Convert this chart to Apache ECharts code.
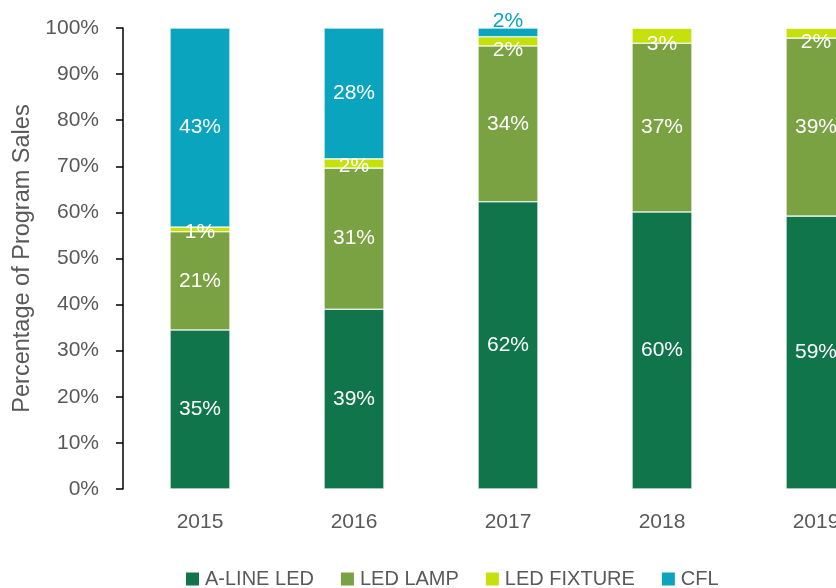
<!DOCTYPE html>
<html>
<head>
<meta charset="utf-8">
<script src="https://cdn.jsdelivr.net/npm/echarts@6/dist/echarts.min.js"></script>
<style>
  html, body { margin: 0; padding: 0; background: #fff; }
  #chart { width: 836px; height: 588px; }
</style>
</head>
<body>
<div id="chart"></div>
<script>
const years = ['2015', '2016', '2017', '2018', '2019'];
const alineLed = [34.5, 39.0, 62.3, 60.1, 59.2];
const ledLamp = [21.3, 30.6, 33.8, 36.6, 38.6];
const ledFixture = [1.0, 2.0, 2.0, 3.3, 2.2];
const cfl = [43.2, 28.4, 1.9, 0, 0];

const colors = {
  aline: '#10754A',
  lamp: '#7AA242',
  fixture: '#C5E00B',
  cfl: '#0AA4BF'
};

const chart = echarts.init(document.getElementById('chart'));
const fontFamily = "'Liberation Sans', Arial, sans-serif";

const pct = p => (p.value > 0 ? Math.round(p.value) + '%' : '');

function makeSeries(name, data, color) {
  return {
    name: name,
    type: 'bar',
    stack: 'total',
    barWidth: 60,
    itemStyle: { color: color, borderColor: '#ffffff', borderWidth: 0.6 },
    label: {
      show: true,
      position: 'inside',
      color: '#ffffff',
      fontSize: 21,
      fontFamily: fontFamily,
      formatter: pct
    },
    data: data
  };
}

// LED FIXTURE labels sit a little below the thin segment; near the top they are pushed further down
const fixtureData = ledFixture.map((v, i) => {
  const top = alineLed[i] + ledLamp[i] + v;
  return { value: v, label: { offset: [0, top > 90 ? 9 : 3] } };
});

// CFL: small segments get their label above the bar in the series colour
const cflData = cfl.map(v => v > 0 && v < 5
  ? { value: v, label: { position: 'top', distance: 0, offset: [0, 4], color: colors.cfl } }
  : v);

chart.setOption({
  animation: false,
  textStyle: { fontFamily: fontFamily },
  grid: {
    left: 123,
    right: -57,
    top: 28,
    bottom: 99,
    containLabel: false,
    outerBoundsMode: 'none'
  },
  legend: {
    data: ['A-LINE LED', 'LED LAMP', 'LED FIXTURE', 'CFL'],
    left: 179,
    top: 564,
    icon: 'rect',
    itemWidth: 15,
    itemHeight: 15,
    itemGap: 25,
    textStyle: { color: '#595959', fontSize: 20, fontFamily: fontFamily }
  },
  xAxis: {
    type: 'category',
    data: years,
    axisLine: { show: false },
    axisTick: { show: false },
    axisLabel: { color: '#595959', fontSize: 21, margin: 23 }
  },
  yAxis: {
    type: 'value',
    min: 0,
    max: 100,
    interval: 10,
    name: 'Percentage of Program Sales',
    nameLocation: 'middle',
    nameGap: 86,
    nameTextStyle: { color: '#595959', fontSize: 23.5, fontFamily: fontFamily },
    axisLine: { show: true, lineStyle: { color: '#000', width: 1.5 } },
    axisTick: { show: true, length: 7, lineStyle: { color: '#000', width: 1.5 } },
    axisLabel: { color: '#595959', fontSize: 21, margin: 24, formatter: '{value}%' },
    splitLine: { show: false }
  },
  series: [
    makeSeries('A-LINE LED', alineLed, colors.aline),
    makeSeries('LED LAMP', ledLamp, colors.lamp),
    makeSeries('LED FIXTURE', fixtureData, colors.fixture),
    makeSeries('CFL', cflData, colors.cfl)
  ]
});
</script>
</body>
</html>
